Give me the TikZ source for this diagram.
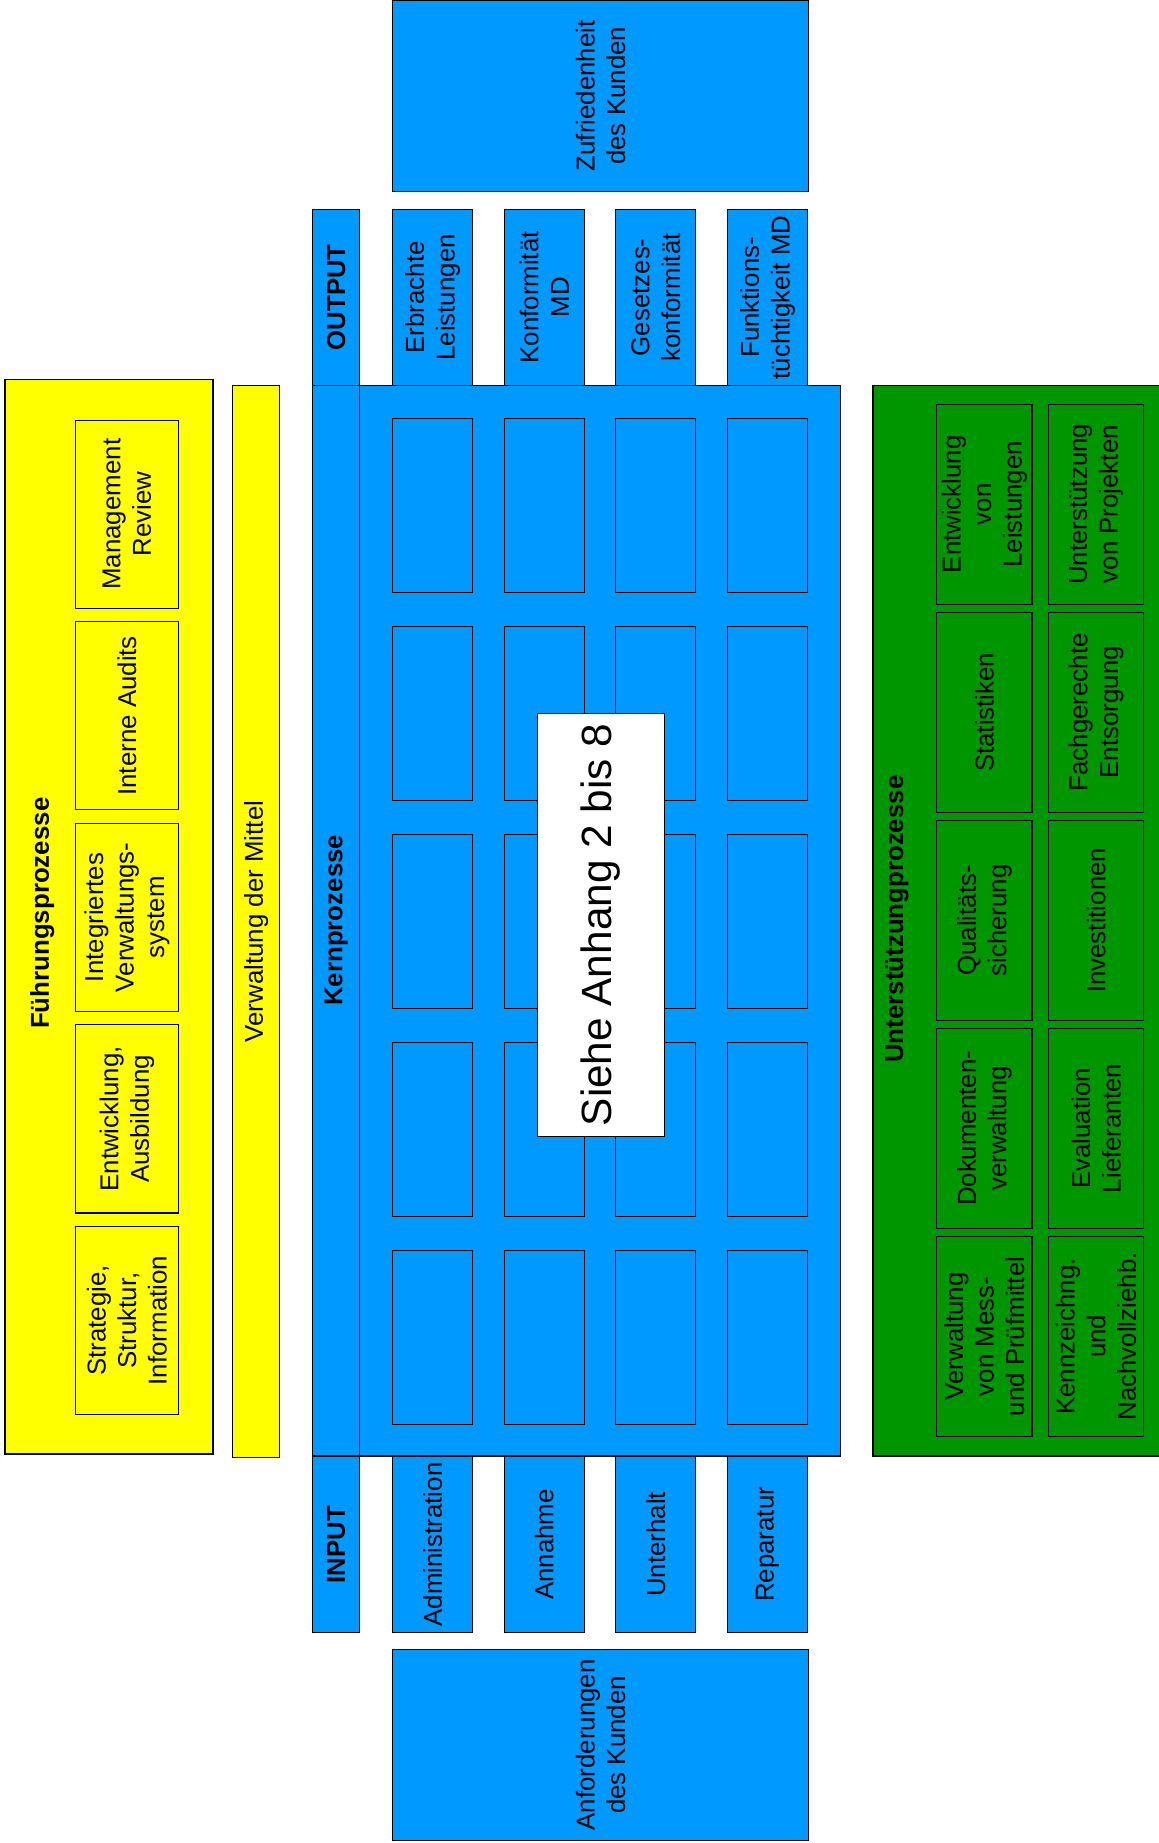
\documentclass[tikz,border=0pt]{standalone}
\usepackage{fontspec}
\setmainfont{Liberation Sans}
\usetikzlibrary{positioning}

\begin{document}
\begin{tikzpicture}[x=1pt, y=-1pt, thick]

  % Colors
  \definecolor{kernblue}{RGB}{0,153,255}
  \definecolor{fuehrgelb}{RGB}{255,255,0}
  \definecolor{stuetzgruen}{RGB}{0,150,0}

  \tikzset{
    dims/.style 2 args={minimum width=#2pt, minimum height=#1pt},
    box/.style={draw=black, line width=0.9pt, rotate=90, align=center, inner sep=0pt,
      font=\fontsize{22}{26}\selectfont},
    frame/.style={draw=black, line width=1.4pt, rotate=90, inner sep=0pt},
    head/.style={rotate=90, inner sep=0pt, font=\bfseries\fontsize{22}{26}\selectfont},
  }

  \useasboundingbox (0,0) rectangle (986,1568);

  % Customer boxes
  \node[box, fill=kernblue, dims={354}{163}] (zufried) at (511,81.5) {Zufriedenheit\\des Kunden};
  \node[box, fill=kernblue, dims={354}{163}] (anford) at (511,1484.5) {Anforderungen\\des Kunden};

  % Core processes
  \node[frame, fill=kernblue, dims={449}{911}] (kern) at (490.5,783.5) {};
  \draw[line width=0.9pt] (kern.south west -| 306,0) -- (kern.south east -| 306,0);
  \node[head] (kernlabel) at (286,783) {Kernprozesse};
  \foreach \r/\y in {1/430, 2/607, 3/784, 4/961, 5/1138}
    \foreach \c/\x in {1/368, 2/463, 3/558, 4/653}
      \node[box, fill=kernblue, dims={68}{148}] (kern-\r-\c) at (\x,\y) {};
  \node[box, fill=white, dims={108}{360}, font=\fontsize{36}{40}\selectfont] (siehe) at (511,787) {Siehe Anhang 2 bis 8};

  % Output
  \node[box, fill=kernblue, dims={40}{150}, font=\bfseries\fontsize{22}{26}\selectfont] (outhead) at (286,253) {OUTPUT};
  \foreach \x/\t [count=\i] in {368/{Erbrachte\\Leistungen}, 463/{Konformität\\MD},
      558/{Gesetzes-\\konformität}, 653/{Funktions-\\tüchtigkeit MD}}
    \node[box, fill=kernblue, dims={68}{150}] (out\i) at (\x,253) {\t};

  % Input
  \node[box, fill=kernblue, dims={40}{150}, font=\bfseries\fontsize{22}{26}\selectfont] (inhead) at (286,1314) {INPUT};
  \foreach \x/\t [count=\i] in {368/Administration, 463/Annahme, 558/Unterhalt, 653/Reparatur}
    \node[box, fill=kernblue, dims={68}{150}] (in\i) at (\x,1314) {\t};

  % Leadership processes
  \node[frame, fill=fuehrgelb, dims={177}{914}] (fuehr) at (92.5,780) {};
  \node[head] (fuehrlabel) at (36,777) {Führungsprozesse};
  \foreach \y/\t [count=\i] in {437.5/{Management\\Review}, 609/{Interne Audits},
      780.5/{Integriertes\\Verwaltungs-\\system}, 952/{Entwicklung,\\Ausbildung},
      1123.5/{Strategie,\\Struktur,\\Information}}
    \node[box, fill=fuehrgelb, dims={88}{160}] (fuehr\i) at (108,\y) {\t};
  \node[box, fill=fuehrgelb, dims={40}{912}] (mittel) at (218,784) {Verwaltung der Mittel};

  % Support processes
  \node[frame, fill=stuetzgruen, dims={252}{911}] (stuetz) at (869,783.5) {};
  \node[head] (stuetzlabel) at (763,782) {Unterstützungprozesse};
  \foreach \y/\t [count=\i] in {429/{Entwicklung\\von\\Leistungen}, 606/Statistiken,
      783/{Qualitäts-\\sicherung}, 960/{Dokumenten-\\verwaltung},
      1137/{Verwaltung\\von Mess-\\und Prüfmittel}}
    \node[box, fill=stuetzgruen, dims={81}{170}] (stuetza\i) at (837.5,\y) {\t};
  \foreach \y/\t [count=\i] in {429/{Unterstützung\\von Projekten}, 606/{Fachgerechte\\Entsorgung},
      783/Investitionen, 960/{Evaluation\\Lieferanten},
      1137/{Kennzeichng.\\und\\Nachvollziehb.}}
    \node[box, fill=stuetzgruen, dims={81}{170}] (stuetzb\i) at (932.5,\y) {\t};

\end{tikzpicture}
\end{document}
